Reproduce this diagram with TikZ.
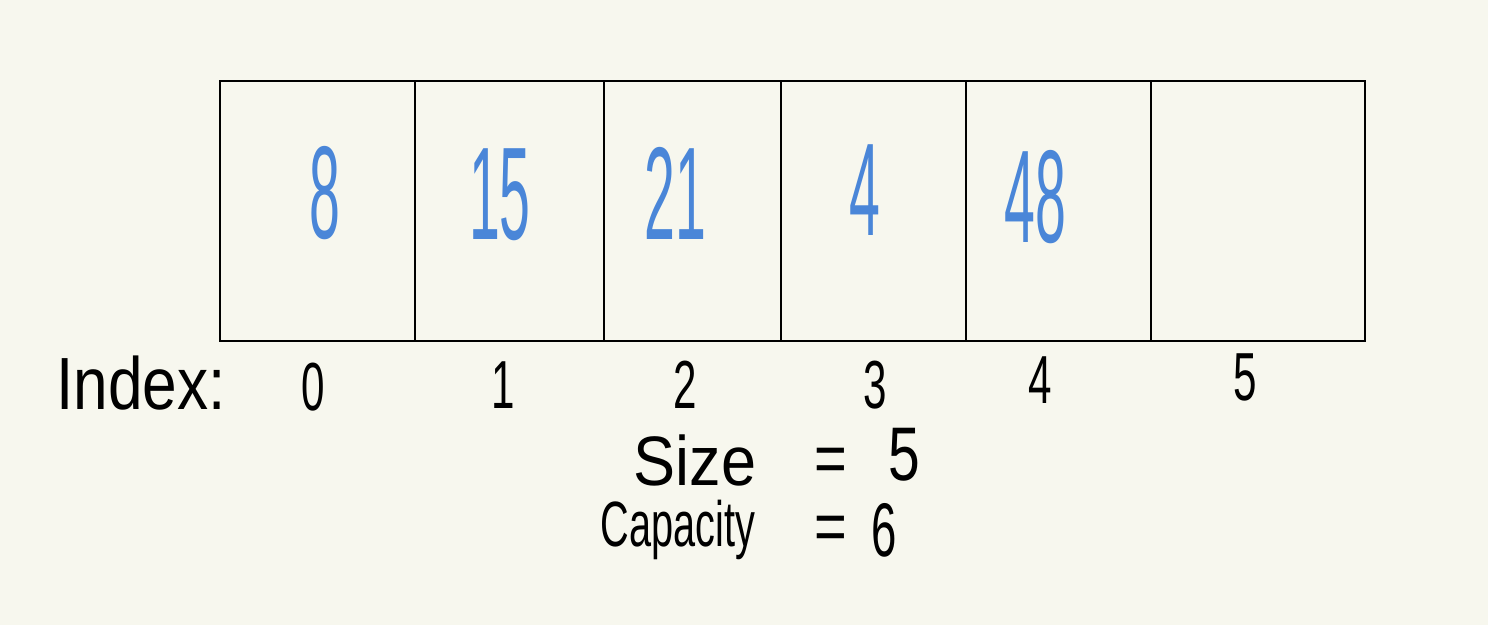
\documentclass[tikz,border=0pt]{standalone}
\usepackage{fontspec}
\setmainfont{Liberation Sans}
\usepackage{graphicx}
\definecolor{bg}{HTML}{F7F7EE}
\definecolor{ink}{HTML}{4A86D8}
\newcommand\hw[2]{\scalebox{#1}[1]{#2}}
\begin{document}
\begin{tikzpicture}[x=1pt,y=1pt,
  cellbox/.style={draw=black,line width=1.8pt,minimum height=260pt,inner sep=0pt,anchor=south west},
  val/.style={text=ink,font=\fontsize{132}{132}\selectfont,inner sep=0pt},
  idx/.style={text=black,font=\fontsize{68}{68}\selectfont,inner sep=0pt},
  lbl/.style={text=black,inner sep=0pt}]
\useasboundingbox[fill=bg] (0,0) rectangle (1488,625);
\node[cellbox,minimum width=195pt] (c0) at (219,283) {};
\node[cellbox,minimum width=189pt] (c1) at (414,283) {};
\node[cellbox,minimum width=177pt] (c2) at (603,283) {};
\node[cellbox,minimum width=185pt] (c3) at (780,283) {};
\node[cellbox,minimum width=185pt] (c4) at (965,283) {};
\node[cellbox,minimum width=214pt] (c5) at (1150,283) {};
\node[val] (v0) at (325,432) {\hw{0.42}{8}};
\node[val] (v1) at (500,430) {\hw{0.42}{15}};
\node[val] (v2) at (675,432) {\hw{0.42}{21}};
\node[val] (v3) at (865,435) {\hw{0.42}{4}};
\node[val] (v4) at (1035,428) {\hw{0.42}{48}};
\node[lbl,font=\fontsize{74}{74}\selectfont] (ix) at (141,242) {\hw{0.84}{Index:}};
\node[idx] (i0) at (313,238) {\hw{0.62}{0}};
\node[idx] (i1) at (503,240) {\hw{0.62}{1}};
\node[idx] (i2) at (685,240) {\hw{0.62}{2}};
\node[idx] (i3) at (875,240) {\hw{0.62}{3}};
\node[idx] (i4) at (1040,245) {\hw{0.62}{4}};
\node[idx] (i5) at (1245,248) {\hw{0.62}{5}};
\node[lbl,font=\fontsize{70}{70}\selectfont] (sz) at (695,165) {\hw{0.9}{Size}};
\node[lbl,font=\fontsize{70}{70}\selectfont] (eq1) at (831,160) {\hw{0.8}{=}};
\node[lbl,font=\fontsize{76}{76}\selectfont] (n5) at (904,170) {\hw{0.75}{5}};
\node[lbl,font=\fontsize{64}{64}\selectfont] (cap) at (678,95) {\hw{0.62}{Capacity}};
\node[lbl,font=\fontsize{70}{70}\selectfont] (eq2) at (831,92) {\hw{0.8}{=}};
\node[lbl,font=\fontsize{76}{76}\selectfont] (n6) at (884,95) {\hw{0.6}{6}};
\end{tikzpicture}
\end{document}
